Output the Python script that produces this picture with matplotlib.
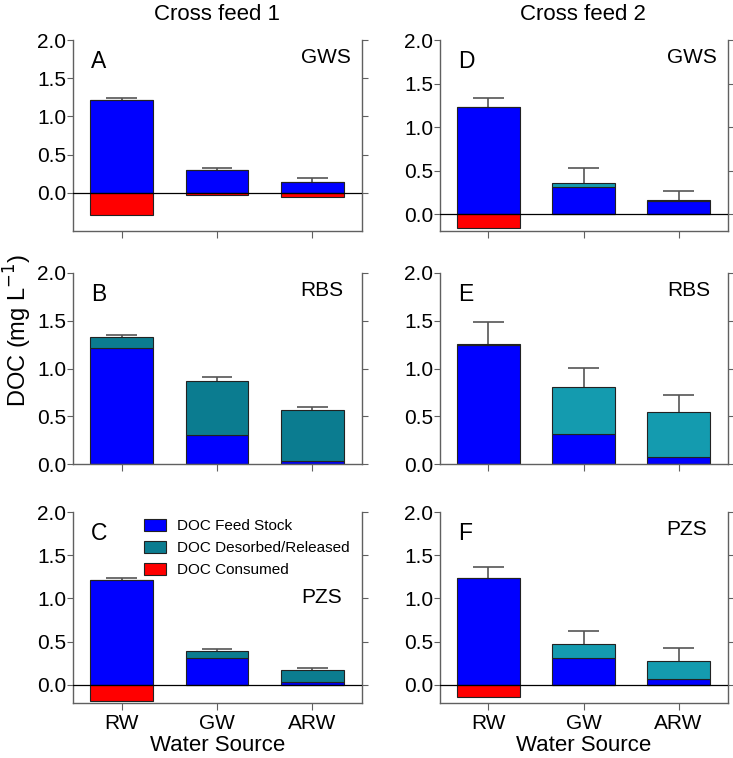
import numpy as np
import matplotlib
matplotlib.use('Agg')
import matplotlib.pyplot as plt
from matplotlib.patches import Patch

plt.rcParams['font.family'] = ['Liberation Sans', 'DejaVu Sans']

# ---- data (mg/L) ----
sources = ['RW', 'GW', 'ARW']

feed_A = [1.21, 0.30, 0.135]
desorb_A = [0.0, 0.0, 0.0]
consumed_A = [-0.29, -0.03, -0.05]
err_A = [0.03, 0.02, 0.055]

feed_B = [1.215, 0.307, 0.027]
desorb_B = [0.115, 0.558, 0.541]
consumed_B = [0.0, 0.0, 0.0]
err_B = [0.02, 0.05, 0.03]

feed_C = [1.216, 0.31, 0.03]
desorb_C = [0.0, 0.08, 0.145]
consumed_C = [-0.19, 0.0, 0.0]
err_C = [0.023, 0.02, 0.023]

feed_D = [1.234, 0.317, 0.153]
desorb_D = [0.0, 0.038, 0.011]
consumed_D = [-0.16, 0.0, 0.0]
err_D = [0.10, 0.172, 0.103]

feed_E = [1.249, 0.317, 0.07]
desorb_E = [0.006, 0.489, 0.47]
consumed_E = [0.0, 0.0, 0.0]
err_E = [0.23, 0.199, 0.18]

feed_F = [1.235, 0.313, 0.07]
desorb_F = [0.0, 0.154, 0.203]
consumed_F = [-0.144, 0.0, 0.0]
err_F = [0.128, 0.151, 0.156]

blue = '#0000FF'
red = '#FF0000'
teal1 = '#0B7C90'
teal2 = '#149BAF'
spine_c = '#606060'

W, H = 733, 758
fig = plt.figure(figsize=(W / 100, H / 100), dpi=100)

def px_axes(x0, x1, y0, y1):
    # pixel box -> figure fraction
    return fig.add_axes([x0 / W, 1 - y1 / H, (x1 - x0) / W, (y1 - y0) / H])

panels = [
    # letter, site, feed, desorb, consumed, err, box, ymin, teal, site pos
    ('A', 'GWS', feed_A, desorb_A, consumed_A, err_A, (73, 362, 40, 231), -0.5, teal1, (0.961, 0.91)),
    ('B', 'RBS', feed_B, desorb_B, consumed_B, err_B, (73, 362, 273, 464), 0.0, teal1, (0.934, 0.91)),
    ('C', 'PZS', feed_C, desorb_C, consumed_C, err_C, (73, 362, 512, 703), -0.21, teal1, (0.93, 0.55)),
    ('D', 'GWS', feed_D, desorb_D, consumed_D, err_D, (440, 728, 40, 231), -0.19, teal2, (0.961, 0.91)),
    ('E', 'RBS', feed_E, desorb_E, consumed_E, err_E, (440, 728, 273, 464), 0.0, teal2, (0.9375, 0.91)),
    ('F', 'PZS', feed_F, desorb_F, consumed_F, err_F, (440, 728, 512, 703), -0.21, teal2, (0.928, 0.908)),
]

x = np.arange(len(sources))
bw = 0.66
cap = 0.16   # half width of error cap, in bar units

for letter, site, feed, des, con, err, box, ymin, teal, spos in panels:
    ax = px_axes(*box)
    feed = np.array(feed)
    des = np.array(des)
    ax.bar(x, feed, bw, color=blue, edgecolor='#222222', linewidth=0.8, zorder=2)
    ax.bar(x, des, bw, bottom=feed, color=teal, edgecolor='#222222', linewidth=0.8, zorder=2)
    ax.bar(x, con, bw, color=red, edgecolor='#222222', linewidth=0.8, zorder=2)
    # upper-only error bars
    top = feed + des
    hi = top + np.array(err)
    ax.vlines(x, top, hi, color='#555555', lw=1.2, zorder=1)
    ax.hlines(hi, x - cap, x + cap, color='#555555', lw=1.2, zorder=1)
    if ymin < 0:
        ax.axhline(0, color='black', lw=0.9, zorder=3)

    ax.set_xlim(-0.51, 2.52)
    ax.set_ylim(ymin, 2.0)
    ax.set_yticks([0, 0.5, 1.0, 1.5, 2.0])
    ax.set_yticklabels(['0.0', '0.5', '1.0', '1.5', '2.0'])
    ax.set_xticks(x)
    ax.spines['top'].set_visible(False)
    for s in ['left', 'bottom', 'right']:
        ax.spines[s].set_color(spine_c)
        ax.spines[s].set_linewidth(1.0)
    ax.tick_params(axis='y', right=True, direction='out', length=4, color=spine_c,
                   labelsize=15, pad=1)
    ax.tick_params(axis='x', direction='out', length=5, color=spine_c, labelsize=15, pad=3)
    if letter in ('C', 'F'):
        ax.set_xticklabels(sources)
        ax.set_xlabel('Water Source', fontsize=16, labelpad=1.5)
    else:
        ax.set_xticklabels([])

    ax.text(0.062, 0.89, letter, transform=ax.transAxes, fontsize=16.5, ha='left', va='center')
    ax.text(spos[0], spos[1], site, transform=ax.transAxes, fontsize=15, ha='right', va='center')

    if letter == 'C':
        handles = [Patch(facecolor=blue, edgecolor='#222222', lw=0.8, label='DOC Feed Stock'),
                   Patch(facecolor=teal1, edgecolor='#222222', lw=0.8, label='DOC Desorbed/Released'),
                   Patch(facecolor=red, edgecolor='#222222', lw=0.8, label='DOC Consumed')]
        ax.legend(handles=handles, loc='upper left', bbox_to_anchor=(0.215, 1.01),
                  frameon=False, fontsize=11, handlelength=1.4, handleheight=0.8,
                  handletextpad=0.75, labelspacing=0.5, borderaxespad=0.2)

fig.text(217 / W, 1 - 14 / H, 'Cross feed 1', fontsize=16, ha='center', va='center')
fig.text(583 / W, 1 - 14 / H, 'Cross feed 2', fontsize=16, ha='center', va='center')
fig.text(18 / W, 1 - 330 / H, 'DOC (mg L$^{-1}$)', fontsize=17, rotation=90,
         ha='center', va='center')

plt.savefig('out.png', dpi=100)
